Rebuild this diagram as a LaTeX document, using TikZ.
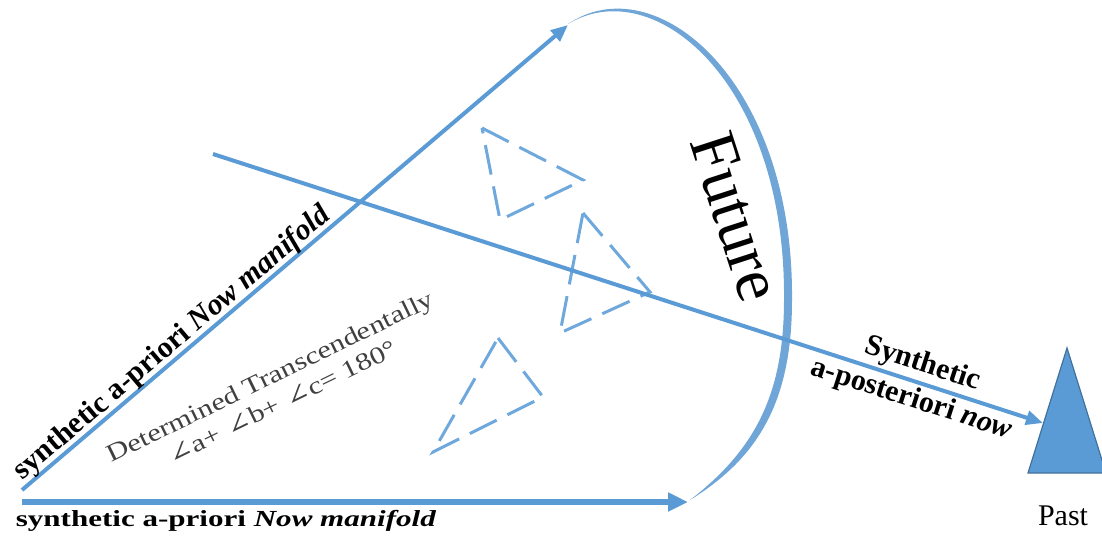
\documentclass[tikz,border=0pt]{standalone}
\usepackage{fontspec}
\setmainfont{Liberation Serif}
\newfontfamily\symfont{DejaVu Serif}
\usetikzlibrary{arrows.meta}
\definecolor{mainblue}{HTML}{5B9BD5}
\definecolor{arcblue}{HTML}{6FA5D7}
\definecolor{dashblue}{HTML}{6FA8DC}
\definecolor{pastedge}{HTML}{41719C}
\definecolor{txtgray}{HTML}{404040}
\begin{document}
\begin{tikzpicture}[x=0.5pt,y=-0.5pt,
  mainline/.style={draw=mainblue, line width=2pt},
  arrowtip/.style={-{Triangle[length=8.5pt,width=7pt]}},
  dashtri/.style={draw=dashblue, line width=1.5pt, dash pattern=on 15pt off 6pt},
  lbl/.style={font=\bfseries\fontsize{15}{18.5}\selectfont, text=black, inner sep=0pt},
]
\useasboundingbox (0,0) rectangle (1102,537);

% future arc (tapered)
\fill[arcblue] (568,24) .. controls (655,-35) and (794,80) .. (792,300)
  .. controls (792,402) and (758,458) .. (690,500)
  .. controls (752,452) and (784,398) .. (784,300)
  .. controls (786,82) and (654,-28) .. (568,24) -- cycle;

% coordinates
\coordinate (O) at (22,490);
\coordinate (Otop) at (568,25);
\coordinate (Ob) at (22,502);
\coordinate (Bt) at (688,502);
\coordinate (Ls) at (213,154);
\coordinate (Le) at (1043,423);

% past triangle
\path[fill=mainblue, draw=pastedge, line width=0.6pt] (1067,348) -- (1028,473) -- (1106,473) -- cycle;
\node[font=\fontsize{15}{18}\selectfont] (past) at (1063,516) {Past};

% dashed triangles
\draw[dashtri] (482,128) -- (583,180) -- (500,220) -- cycle;
\draw[dashtri] (583,213) -- (650,292) -- (560,333) -- cycle;
\draw[dashtri] (498,338) -- (543,397) -- (433,452) -- cycle;

% arrows
\draw[mainline, arrowtip] (O) -- (Otop)
  node[pos=0.292, sloped, above=-1pt, lbl, font=\bfseries\fontsize{15}{17}\selectfont] (diag) {synthetic a-priori \textit{Now manifold}};
\draw[mainblue, line width=3pt, -{Triangle[length=10pt,width=9pt]}] (Ob) -- (Bt);
\draw[mainline, arrowtip] (Ls) -- (Le)
  node[pos=0.848, sloped, lbl, align=center] (post) {Synthetic\\a-posteriori \textit{now}};

% texts
\node[lbl, font=\bfseries\fontsize{11.5}{13}\selectfont, xscale=1.35] (btxt) at (226,521) {synthetic a-priori \textit{Now manifold}};
\node[rotate=26, xscale=1.25, text=txtgray, font=\fontsize{12.2}{14}\selectfont, align=center, inner sep=0pt] (det) at (276,389)
  {Determined Transcendentally\\{\symfont ∠}a+ {\symfont ∠}b+ {\symfont ∠}c= 180°};
\node[rotate=-72, font=\fontsize{33}{33}\selectfont, inner sep=0pt] (fut) at (736,217) {Future};
\end{tikzpicture}
\end{document}
